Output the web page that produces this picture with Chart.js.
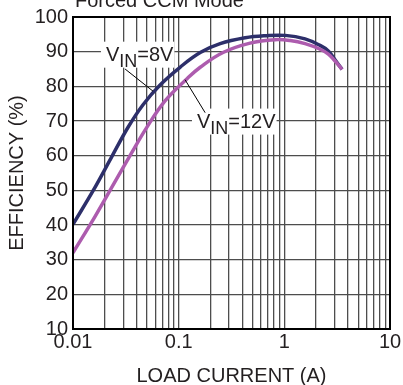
<!DOCTYPE html>
<html>
<head>
<meta charset="utf-8">
<script src="https://cdn.jsdelivr.net/npm/chart.js@4/dist/chart.umd.min.js"></script>
<style>
  html, body { margin: 0; padding: 0; background: #fff; }
  #wrap { width: 403px; height: 385px; }
</style>
</head>
<body>
<div id="wrap"><canvas id="chart"></canvas></div>
<script>
// values
const current8V = [0.01, 0.0155, 0.0229, 0.0332, 0.046, 0.0667, 0.103, 0.16, 0.247, 0.426, 0.658, 1.02, 1.57, 2.18, 2.61, 2.96, 3.52];
const eff8V = [40.2, 49.9, 59.3, 68.2, 74.7, 80.4, 85.5, 89.75, 92.3, 94.0, 94.6, 94.7, 93.7, 91.8, 90.2, 88.0, 84.9];

const current12V = [0.01, 0.0162, 0.025, 0.0362, 0.0491, 0.0743, 0.12, 0.16, 0.263, 0.474, 0.818, 1.135, 1.57, 2.18, 2.61, 2.96, 3.52];
const eff12V = [32.0, 42.5, 52.5, 61.0, 67.8, 75.8, 82.2, 85.5, 89.75, 92.45, 93.45, 93.2, 92.3, 90.7, 89.3, 87.6, 84.9];

const xMajorTicks = [0.01, 0.1, 1, 10];
const xMinorSteps = [2, 3, 4, 5, 6, 7, 8, 9];
const yTicks = [10, 20, 30, 40, 50, 60, 70, 80, 90, 100];

const FONT = "'Liberation Sans', Arial, sans-serif";
const TEXT = '#231f20';
const NAVY = '#2d2f6a';
const PURPLE = '#ad5cae';

// curve labels, anchored in data units (x, baseline y) with their leader lines
const labels = [
  { main: 'V', sub: 'IN', rest: '=8V', x: 0.0205, y: 87.4,
    lead: [[0.0311, 85.0], [0.0572, 78.6]] },
  { main: 'V', sub: 'IN', rest: '=12V', x: 0.149, y: 68.1,
    lead: [[0.115, 81.9], [0.178, 72.4]] }
];

const xTickValues = [];
xMajorTicks.forEach((m, i) => {
  xTickValues.push(m);
  if (i < xMajorTicks.length - 1) xMinorSteps.forEach(s => xTickValues.push(+(m * s).toPrecision(3)));
});

const toPoints = (xs, ys) => xs.map((x, i) => ({ x: x, y: ys[i] }));

const annotate = {
  id: 'annotate',
  afterDraw(chart) {
    const ctx = chart.ctx;
    const xs = chart.scales.x, ys = chart.scales.y;
    const a = chart.chartArea;
    ctx.save();

    // frame
    ctx.strokeStyle = '#000';
    ctx.lineWidth = 2;
    ctx.strokeRect(a.left, a.top, a.right - a.left, a.bottom - a.top);

    // title, cut off at the top like the source
    ctx.fillStyle = TEXT;
    ctx.font = '20px ' + FONT;
    ctx.textBaseline = 'alphabetic';
    ctx.textAlign = 'left';
    ctx.fillText('Forced CCM Mode', a.left + 2, 7);

    labels.forEach(l => {
      const px = xs.getPixelForValue(l.x);
      const py = ys.getPixelForValue(l.y);
      ctx.font = '20px ' + FONT;
      const w1 = ctx.measureText(l.main).width;
      const w3 = ctx.measureText(l.rest).width;
      ctx.font = '18px ' + FONT;
      const w2 = ctx.measureText(l.sub).width;
      const total = w1 + w2 + w3;

      ctx.fillStyle = '#fff';
      ctx.fillRect(px - 5, py - 19, total + 6, 26);

      // leader line
      ctx.strokeStyle = '#000';
      ctx.lineWidth = 1;
      ctx.beginPath();
      ctx.moveTo(xs.getPixelForValue(l.lead[0][0]), ys.getPixelForValue(l.lead[0][1]));
      ctx.lineTo(xs.getPixelForValue(l.lead[1][0]), ys.getPixelForValue(l.lead[1][1]));
      ctx.stroke();

      ctx.fillStyle = TEXT;
      ctx.font = '20px ' + FONT;
      ctx.fillText(l.main, px, py);
      ctx.font = '18px ' + FONT;
      ctx.fillText(l.sub, px + w1, py + 6);
      ctx.font = '20px ' + FONT;
      ctx.fillText(l.rest, px + w1 + w2, py);
    });
    ctx.restore();
  }
};

new Chart(document.getElementById('chart'), {
  type: 'line',
  data: {
    datasets: [
      {
        label: 'VIN=8V',
        data: toPoints(current8V, eff8V),
        borderColor: NAVY,
        borderWidth: 3.5,
        pointRadius: 0,
        tension: 0.4,
        order: 1
      },
      {
        label: 'VIN=12V',
        data: toPoints(current12V, eff12V),
        borderColor: PURPLE,
        borderWidth: 3.5,
        pointRadius: 0,
        tension: 0.4,
        order: 0
      }
    ]
  },
  options: {
    responsive: true,
    maintainAspectRatio: false,
    animation: false,
    layout: { padding: { top: 13, right: 13, left: 0, bottom: 0 } },
    plugins: {
      legend: { display: false },
      tooltip: { enabled: false }
    },
    scales: {
      x: {
        type: 'logarithmic',
        min: 0.01,
        max: 10,
        afterBuildTicks: (scale) => {
          scale.ticks = xTickValues.map(v => ({ value: v }));
        },
        afterFit: (scale) => { scale.height = 56; },
        ticks: {
          autoSkip: false,
          maxRotation: 0,
          padding: 1,
          color: TEXT,
          font: { family: FONT, size: 20 },
          callback: (v) => xMajorTicks.includes(v) ? String(v) : ''
        },
        grid: { color: '#4d4d4d', lineWidth: 1.3, drawTicks: false },
        border: { color: '#000', width: 2 },
        title: {
          display: true,
          text: 'LOAD CURRENT (A)',
          color: TEXT,
          font: { family: FONT, size: 20, lineHeight: 0.9 },
          padding: 0
        }
      },
      y: {
        min: 10,
        max: 100,
        afterBuildTicks: (scale) => {
          scale.ticks = yTicks.map(v => ({ value: v }));
        },
        afterFit: (scale) => { scale.width = 73; },
        ticks: {
          padding: 5,
          color: TEXT,
          font: { family: FONT, size: 20 }
        },
        grid: { color: '#4d4d4d', lineWidth: 1.3, drawTicks: false },
        border: { color: '#000', width: 2 },
        title: {
          display: true,
          text: 'EFFICIENCY (%)',
          color: TEXT,
          font: { family: FONT, size: 20 },
          padding: { top: 5, bottom: 0 }
        }
      }
    }
  },
  plugins: [annotate]
});
</script>
</body>
</html>
